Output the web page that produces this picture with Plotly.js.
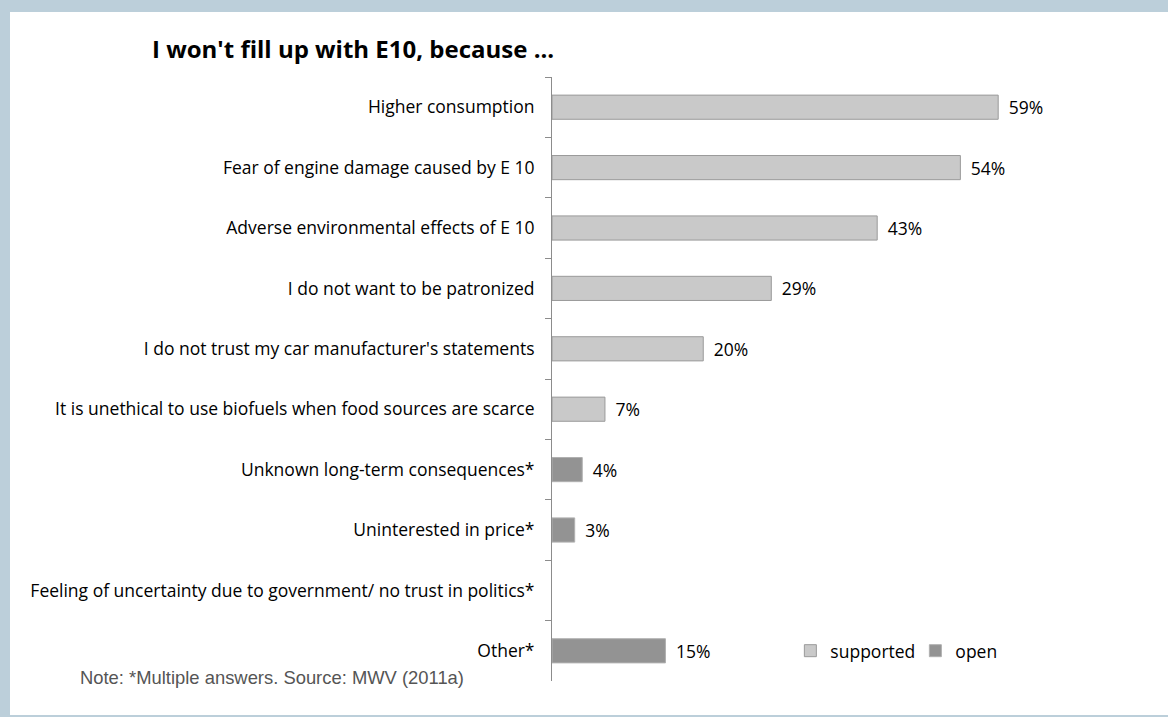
<!DOCTYPE html>
<html><head><meta charset="utf-8">
<script src="https://cdn.plot.ly/plotly-3.0.1.min.js"></script>
<style>
html,body{margin:0;padding:0;background:#bccfda;width:1168px;height:717px;overflow:hidden}
#chart{position:absolute;left:10px;top:12px;width:1158px;height:703px;background:#fff}
</style></head>
<body><div id="chart"></div>
<script>
const categories = [
  "Higher consumption",
  "Fear of engine damage caused by E 10",
  "Adverse environmental effects of E 10",
  "I do not want to be patronized",
  "I do not trust my car manufacturer's statements",
  "It is unethical to use biofuels when food sources are scarce",
  "Unknown long-term consequences*",
  "Uninterested in price*",
  "Feeling of uncertainty due to government/ no trust in politics*",
  "Other*"
];
const supported = [59, 54, 43, 29, 20, 7, null, null, null, null];
const open = [null, null, null, null, null, null, 4, 3, null, 15];
const seriesNames = ["supported", "open"];
const titleText = "I won't fill up with E10, because ...";
const noteText = "Note: *Multiple answers. Source: MWV (2011a)";

const labelFont = {family: "'Open Sans', 'Noto Sans', sans-serif", size: 17.5, color: "#000"};
const fmt = v => v == null ? "" : "\u2009\u00a0" + v + "%";

const traces = [
  {type: "bar", orientation: "h", name: seriesNames[0], y: categories, x: supported,
   text: supported.map(fmt), textposition: "outside", cliponaxis: false,
   textfont: labelFont, width: 0.4,
   marker: {color: "#c9c9c9", line: {color: "#9a9a9a", width: 1}}, hoverinfo: "x+y"},
  {type: "bar", orientation: "h", name: seriesNames[1], y: categories, x: open,
   text: open.map(fmt), textposition: "outside", cliponaxis: false,
   textfont: labelFont, width: 0.4,
   marker: {color: "#939393", line: {color: "#b0b0b0", width: 1}}, hoverinfo: "x+y"}
];

const layout = {
  width: 1158, height: 703,
  margin: {l: 542, r: 11, t: 65, b: 34},
  paper_bgcolor: "#fff", plot_bgcolor: "#fff",
  barmode: "overlay",
  showlegend: true,
  legend: {orientation: "h", x: 0.394, xanchor: "left", y: 0.05, yanchor: "middle",
           font: labelFont, itemwidth: 30, entrywidth: 80, tracegroupgap: 0, bgcolor: "rgba(0,0,0,0)"},
  title: {text: "<b>" + titleText + "</b>", x: 142/1158, xanchor: "left",
          xref: "container", yref: "container", y: 1 - 38/703, yanchor: "middle",
          font: {family: "'Open Sans', 'Noto Sans', sans-serif", size: 24, color: "#000"}},
  xaxis: {range: [0, 80], visible: false, fixedrange: true},
  yaxis: {type: "category", autorange: "reversed", showline: true, linecolor: "#8c8c8c",
          linewidth: 1, ticks: "outside", ticklen: 6, tickcolor: "#8c8c8c", tickson: "boundaries",
          showgrid: false, zeroline: false, tickfont: labelFont, ticklabelstandoff: 13, fixedrange: true},
  annotations: [{text: noteText, xref: "paper", yref: "paper", x: (78 - 552) / 605, y: 4/604,
                 xanchor: "left", yanchor: "middle", showarrow: false,
                 font: {family: "'Liberation Sans', Arial, sans-serif", size: 18.4, color: "#555"}}],
  font: labelFont
};
Plotly.newPlot("chart", traces, layout, {displayModeBar: false, staticPlot: true});
</script></body></html>
